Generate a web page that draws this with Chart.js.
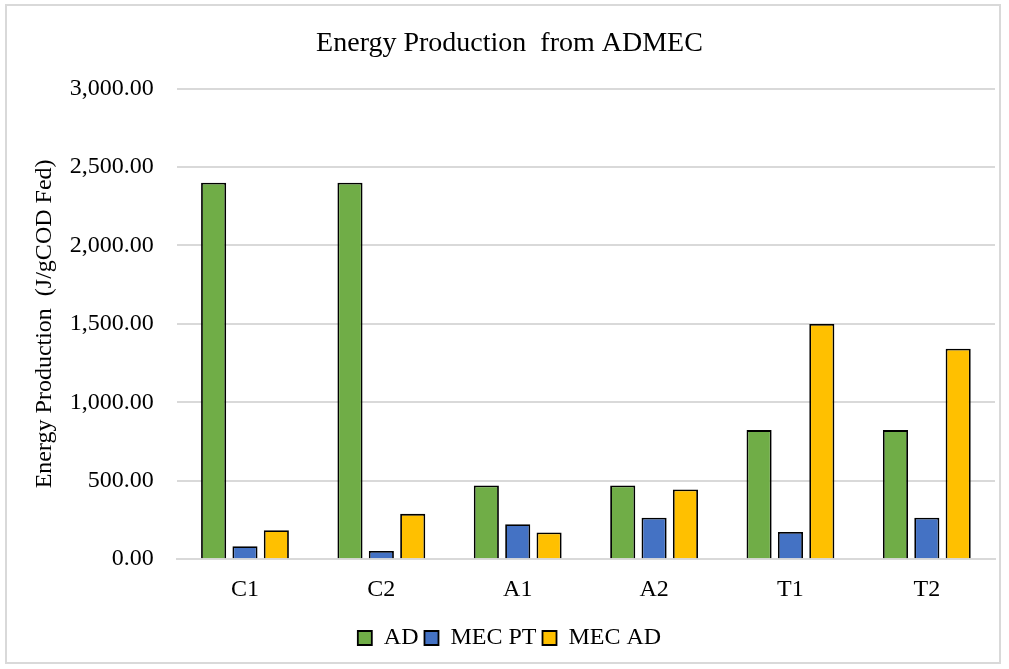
<!DOCTYPE html>
<html>
<head>
<meta charset="utf-8">
<script src="https://cdn.jsdelivr.net/npm/chart.js@4"></script>
<style>
    body { margin: 0; background: #fff; }
    #wrap { position: absolute; left: 5px; top: 4px; width: 996px; height: 660px; border: 2px solid #d9d9d9; box-sizing: border-box; }
    #frame { position: absolute; left: 0; top: 0; width: 1009px; height: 669px; }
</style>
</head>
<body>
<div id="wrap"></div>
<div id="frame"><canvas id="chart" width="1009" height="669"></canvas></div>
<script>
    // Data
    const categories = ['C1', 'C2', 'A1', 'A2', 'T1', 'T2'];
    const adValues = [2400, 2400, 470, 470, 823, 823];
    const mecPtValues = [83, 53, 223, 264, 174, 264];
    const mecAdValues = [185, 289, 170, 445, 1500, 1342];
    const yTicks = [0, 500, 1000, 1500, 2000, 2500, 3000];

    const serif = "'Liberation Serif', 'Times New Roman', serif";

    const formatTick = (v) => v.toLocaleString('en-US', { minimumFractionDigits: 2, maximumFractionDigits: 2 });

    const barStyle = {
        borderColor: '#000000',
        borderWidth: 1.8,
        barPercentage: 0.8,
        categoryPercentage: 0.69
    };

    new Chart(document.getElementById('chart'), {
        type: 'bar',
        data: {
            labels: categories,
            datasets: [
                { label: 'AD', data: adValues, backgroundColor: '#70ad47', ...barStyle },
                { label: 'MEC PT', data: mecPtValues, backgroundColor: '#4472c4', ...barStyle },
                { label: 'MEC AD', data: mecAdValues, backgroundColor: '#ffc000', ...barStyle }
            ]
        },
        options: {
            responsive: false,
            animation: false,
            layout: { padding: { left: 24, right: 14, top: 27, bottom: 9 } },
            scales: {
                y: {
                    min: 0,
                    max: 3000,
                    afterBuildTicks: (axis) => { axis.ticks = yTicks.map(v => ({ value: v })); },
                    ticks: { color: '#000', font: { family: serif, size: 24 }, padding: 23, callback: formatTick },
                    grid: { color: '#d9d9d9', lineWidth: 2, drawTicks: false },
                    border: { display: false },
                    title: {
                        display: true,
                        text: 'Energy Production  (J/gCOD Fed)',
                        color: '#000',
                        font: { family: serif, size: 24 },
                        padding: { top: 6, bottom: -12 }
                    }
                },
                x: {
                    ticks: { color: '#000', font: { family: serif, size: 24 }, padding: 16 },
                    grid: { display: false, drawTicks: false },
                    border: { display: true, color: '#d9d9d9', width: 2 }
                }
            },
            plugins: {
                title: {
                    display: true,
                    text: 'Energy Production  from ADMEC',
                    color: '#000',
                    font: { family: serif, size: 28, weight: 'normal' },
                    padding: { top: 0, bottom: 28 }
                },
                legend: {
                    position: 'bottom',
                    labels: {
                        color: '#000',
                        font: { family: serif, size: 24 },
                        boxWidth: 14,
                        boxHeight: 14,
                        padding: 6
                    }
                },
                tooltip: { enabled: false }
            }
        }
    });
</script>
</body>
</html>
